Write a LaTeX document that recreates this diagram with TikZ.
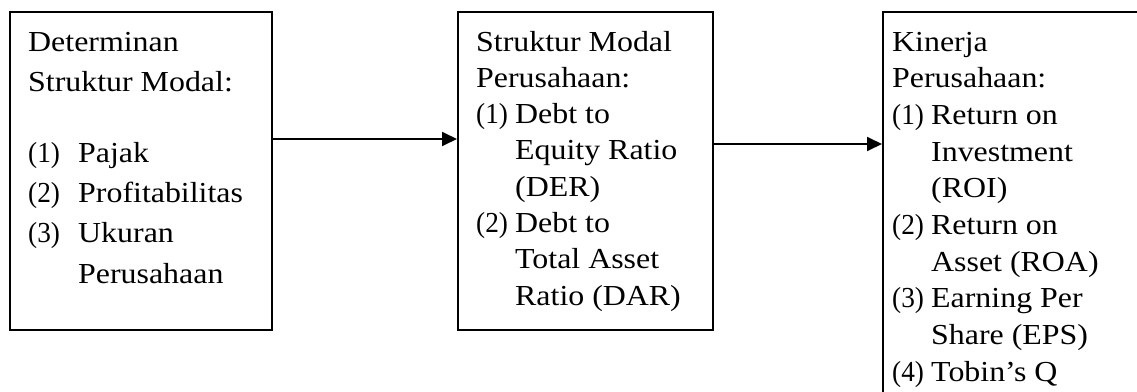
\documentclass[tikz,border=0pt]{standalone}
\usepackage{fontspec}
\setmainfont{Liberation Serif}[FakeStretch=1.1]
\newfontfamily\numfont{Liberation Serif}[FakeStretch=0.94]
\usetikzlibrary{arrows.meta}
\newcommand\itemnum[2]{\makebox[#1][l]{\numfont #2}}
\begin{document}
\begin{tikzpicture}[x=1pt,y=-1pt,
  box/.style={draw=black, line width=1.8pt, anchor=north west, inner sep=0pt},
  txt/.style={anchor=base west, inner sep=0pt, font=\fontsize{29}{34}\selectfont},
  conn/.style={line width=1.8pt, -{Triangle[length=15pt,width=14pt]}}]
\useasboundingbox (0,0) rectangle (1137,391);
\clip (0,0) rectangle (1137,391);
% boxes
\node[box, minimum width=262pt, minimum height=318pt] (b1) at (9,11) {};
\node[box, minimum width=255pt, minimum height=318pt] (b2) at (457,11) {};
\node[box, minimum width=300pt, minimum height=420pt] (b3) at (882,11) {};
% box 1 text
\node[txt] (a1) at (28,51) {Determinan};
\node[txt] (a2) at (28,91) {Struktur Modal:};
\node[txt] (a3) at (28,162) {\itemnum{50pt}{(1)}Pajak};
\node[txt] (a4) at (28,202) {\itemnum{50pt}{(2)}Profitabilitas};
\node[txt] (a5) at (28,242) {\itemnum{50pt}{(3)}Ukuran};
\node[txt] (a6) at (78,283) {Perusahaan};
% box 2 text
\node[txt] (c1) at (476,51) {Struktur Modal};
\node[txt] (c2) at (476,87.3) {Perusahaan:};
\node[txt] (c3) at (476,123.6) {\itemnum{39pt}{(1)}Debt to};
\node[txt] (c4) at (515,159.9) {Equity Ratio};
\node[txt] (c5) at (515,196.2) {(DER)};
\node[txt] (c6) at (476,232.5) {\itemnum{39pt}{(2)}Debt to};
\node[txt] (c7) at (515,268.8) {Total Asset};
\node[txt] (c8) at (515,305.1) {Ratio (DAR)};
% box 3 text
\node[txt] (d1) at (892,51) {Kinerja};
\node[txt] (d2) at (892,87.7) {Perusahaan:};
\node[txt] (d3) at (892,124.4) {\itemnum{39pt}{(1)}Return on};
\node[txt] (d4) at (931,161.1) {Investment};
\node[txt] (d5) at (931,197.8) {(ROI)};
\node[txt] (d6) at (892,234.5) {\itemnum{39pt}{(2)}Return on};
\node[txt] (d7) at (931,271.2) {Asset (ROA)};
\node[txt] (d8) at (892,307.9) {\itemnum{39pt}{(3)}Earning Per};
\node[txt] (d9) at (931,344.6) {Share (EPS)};
\node[txt] (d10) at (892,381.3) {\itemnum{39pt}{(4)}Tobin’s Q};
% connectors
\draw[conn] (b1.east |- 0,139) -- (b2.west |- 0,139);
\draw[conn] (b2.east |- 0,144) -- (b3.west |- 0,144);
\end{tikzpicture}
\end{document}
